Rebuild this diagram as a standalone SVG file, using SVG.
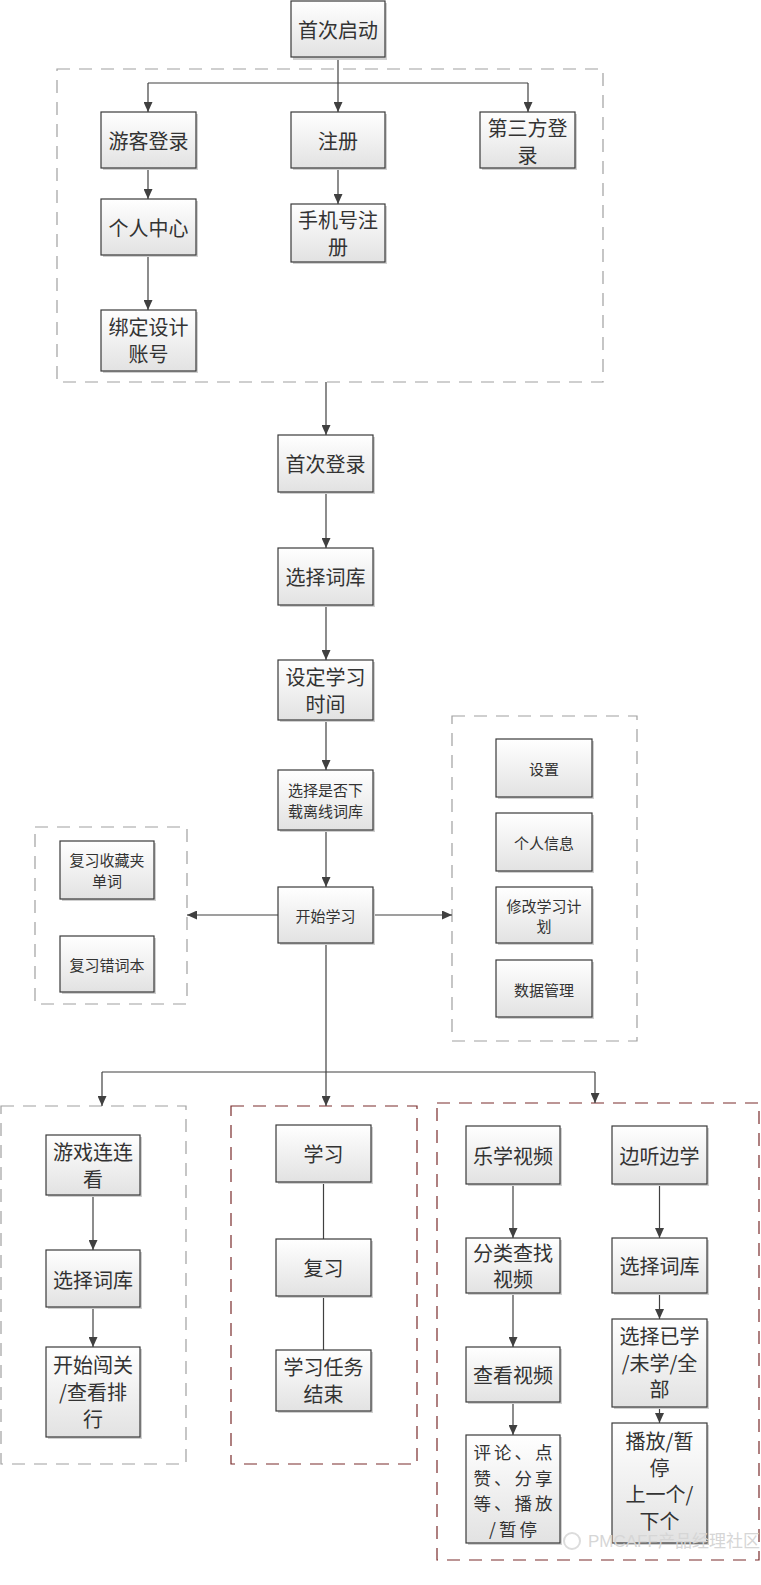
<svg xmlns="http://www.w3.org/2000/svg" width="761" height="1585" viewBox="0 0 761 1585">
<defs>
<linearGradient id="g" x1="0" y1="0" x2="0" y2="1">
<stop offset="0" stop-color="#ffffff"/>
<stop offset="1" stop-color="#e2e2e2"/>
</linearGradient>
<marker id="ah" markerUnits="userSpaceOnUse" markerWidth="10" markerHeight="9" refX="10" refY="4.5" orient="auto">
<path d="M0,0 L10,4.5 L0,9 z" fill="#404040"/>
</marker>
</defs>
<style>
.b{fill:url(#g);stroke:#3a3a3a;stroke-width:1.2}
.s{fill:#d0d0d0}
.t{font-family:"Noto Sans CJK SC","Liberation Sans",sans-serif;font-size:20px;fill:#333;text-anchor:middle;dominant-baseline:central}
.tc{font-family:"Noto Sans CJK SC","Liberation Sans",sans-serif;font-size:17.5px;letter-spacing:3px;fill:#333;text-anchor:middle;dominant-baseline:central}
.ts{font-family:"Noto Sans CJK SC","Liberation Sans",sans-serif;font-size:15px;fill:#333;text-anchor:middle;dominant-baseline:central}
.dg{fill:none;stroke:#a0a0a0;stroke-width:1.2;stroke-dasharray:13 9}
.dr{fill:none;stroke:#7a2c2c;stroke-width:1.2;stroke-dasharray:13 9}
.c{fill:none;stroke:#404040;stroke-width:1.2}
.ca{fill:none;stroke:#404040;stroke-width:1.2;marker-end:url(#ah)}
</style>
<g id="containers">
<rect class="dg" x="57" y="69" width="546" height="313"/>
<rect class="dg" x="35" y="827" width="152" height="177"/>
<rect class="dg" x="452" y="716" width="185" height="325"/>
<rect class="dg" x="1" y="1106" width="185" height="358"/>
<rect class="dr" x="231" y="1106" width="186" height="358"/>
<rect class="dr" x="437" y="1103" width="322" height="457"/>
</g>
<g id="connectors">
<path class="ca" d="M338,57 V112"/>
<path class="c" d="M148,83 H528"/>
<path class="ca" d="M148,83 V112"/>
<path class="ca" d="M528,83 V112"/>
<path class="ca" d="M148,168 V199"/>
<path class="ca" d="M148,255 V310"/>
<path class="ca" d="M338,168 V204"/>
<path class="ca" d="M326,382 V435"/>
<path class="ca" d="M326,492 V548"/>
<path class="ca" d="M326,605 V660"/>
<path class="ca" d="M326,720 V770"/>
<path class="ca" d="M326,830 V887"/>
<path class="ca" d="M278,915 H187"/>
<path class="ca" d="M373,915 H452"/>
<path class="ca" d="M326,943 V1106"/>
<path class="c" d="M102,1072 H595"/>
<path class="ca" d="M102,1072 V1106"/>
<path class="ca" d="M595,1072 V1103"/>
<path class="ca" d="M93,1195 V1250"/>
<path class="ca" d="M93,1307 V1347"/>
<path class="c" d="M323.5,1182 V1239"/>
<path class="c" d="M323.5,1296 V1350"/>
<path class="ca" d="M513,1184 V1238"/>
<path class="ca" d="M513,1293 V1347"/>
<path class="ca" d="M513,1402 V1435"/>
<path class="ca" d="M659.5,1184 V1238"/>
<path class="ca" d="M659.5,1293 V1319"/>
<path class="ca" d="M659.5,1407 V1423"/>
</g>
<g id="n1"><rect class="s" x="293" y="3" width="94" height="57"/><rect class="b" x="291" y="1" width="94" height="56"/><text class="t" x="338" y="29">首次启动</text></g>
<g id="n2"><rect class="s" x="103" y="114" width="95" height="56"/><rect class="b" x="101" y="112" width="95" height="56"/><text class="t" x="148.5" y="140">游客登录</text></g>
<g id="n3"><rect class="s" x="293" y="114" width="94" height="56"/><rect class="b" x="291" y="112" width="94" height="56"/><text class="t" x="338" y="140">注册</text></g>
<g id="n4"><rect class="s" x="482" y="114" width="95" height="56"/><rect class="b" x="480" y="112" width="95" height="56"/><text class="t"><tspan x="527.5" y="127">第三方登</tspan><tspan x="527.5" y="154">录</tspan></text></g>
<g id="n5"><rect class="s" x="103" y="201" width="95" height="56"/><rect class="b" x="101" y="199" width="95" height="56"/><text class="t" x="148.5" y="227">个人中心</text></g>
<g id="n6"><rect class="s" x="293" y="206" width="94" height="58"/><rect class="b" x="291" y="204" width="94" height="58"/><text class="t"><tspan x="338" y="219">手机号注</tspan><tspan x="338" y="246">册</tspan></text></g>
<g id="n7"><rect class="s" x="103" y="312" width="95" height="61"/><rect class="b" x="101" y="310" width="95" height="61"/><text class="t"><tspan x="148.5" y="326">绑定设计</tspan><tspan x="148.5" y="353">账号</tspan></text></g>
<g id="n8"><rect class="s" x="280" y="437" width="95" height="57"/><rect class="b" x="278" y="435" width="95" height="57"/><text class="t" x="325.5" y="463">首次登录</text></g>
<g id="n9"><rect class="s" x="280" y="550" width="95" height="57"/><rect class="b" x="278" y="548" width="95" height="57"/><text class="t" x="325.5" y="576">选择词库</text></g>
<g id="n10"><rect class="s" x="280" y="662" width="95" height="60"/><rect class="b" x="278" y="660" width="95" height="60"/><text class="t"><tspan x="325.5" y="676">设定学习</tspan><tspan x="325.5" y="703">时间</tspan></text></g>
<g id="n11"><rect class="s" x="280" y="772" width="95" height="60"/><rect class="b" x="278" y="770" width="95" height="60"/><text class="ts"><tspan x="325.5" y="789">选择是否下</tspan><tspan x="325.5" y="810">载离线词库</tspan></text></g>
<g id="n12"><rect class="s" x="280" y="889" width="95" height="56"/><rect class="b" x="278" y="887" width="95" height="56"/><text class="ts" x="325.5" y="915">开始学习</text></g>
<g id="n13"><rect class="s" x="62" y="843" width="94" height="58"/><rect class="b" x="60" y="841" width="94" height="58"/><text class="ts"><tspan x="107" y="859">复习收藏夹</tspan><tspan x="107" y="880">单词</tspan></text></g>
<g id="n14"><rect class="s" x="62" y="938" width="94" height="56"/><rect class="b" x="60" y="936" width="94" height="56"/><text class="ts" x="107" y="964">复习错词本</text></g>
<g id="n15"><rect class="s" x="498" y="741" width="96" height="58"/><rect class="b" x="496" y="739" width="96" height="58"/><text class="ts" x="544" y="768">设置</text></g>
<g id="n16"><rect class="s" x="498" y="815" width="96" height="58"/><rect class="b" x="496" y="813" width="96" height="58"/><text class="ts" x="544" y="842">个人信息</text></g>
<g id="n17"><rect class="s" x="498" y="889" width="96" height="56"/><rect class="b" x="496" y="887" width="96" height="56"/><text class="ts"><tspan x="544" y="905">修改学习计</tspan><tspan x="544" y="925">划</tspan></text></g>
<g id="n18"><rect class="s" x="498" y="962" width="96" height="57"/><rect class="b" x="496" y="960" width="96" height="57"/><text class="ts" x="544" y="989">数据管理</text></g>
<g id="n19"><rect class="s" x="48" y="1137" width="94" height="60"/><rect class="b" x="46" y="1135" width="94" height="60"/><text class="t"><tspan x="93" y="1151">游戏连连</tspan><tspan x="93" y="1178">看</tspan></text></g>
<g id="n20"><rect class="s" x="48" y="1252" width="94" height="57"/><rect class="b" x="46" y="1250" width="94" height="57"/><text class="t" x="93" y="1279">选择词库</text></g>
<g id="n21"><rect class="s" x="48" y="1349" width="94" height="90"/><rect class="b" x="46" y="1347" width="94" height="90"/><text class="t"><tspan x="93" y="1364">开始闯关</tspan><tspan x="93" y="1391">/查看排</tspan><tspan x="93" y="1418">行</tspan></text></g>
<g id="n22"><rect class="s" x="278" y="1127" width="95" height="57"/><rect class="b" x="276" y="1125" width="95" height="57"/><text class="t" x="323.5" y="1153">学习</text></g>
<g id="n23"><rect class="s" x="278" y="1241" width="95" height="57"/><rect class="b" x="276" y="1239" width="95" height="57"/><text class="t" x="323.5" y="1267">复习</text></g>
<g id="n24"><rect class="s" x="278" y="1352" width="95" height="61"/><rect class="b" x="276" y="1350" width="95" height="61"/><text class="t"><tspan x="323.5" y="1366">学习任务</tspan><tspan x="323.5" y="1393">结束</tspan></text></g>
<g id="n25"><rect class="s" x="468" y="1128" width="94" height="58"/><rect class="b" x="466" y="1126" width="94" height="58"/><text class="t" x="513" y="1155">乐学视频</text></g>
<g id="n26"><rect class="s" x="468" y="1240" width="94" height="55"/><rect class="b" x="466" y="1238" width="94" height="55"/><text class="t"><tspan x="513" y="1252">分类查找</tspan><tspan x="513" y="1278">视频</tspan></text></g>
<g id="n27"><rect class="s" x="468" y="1349" width="94" height="55"/><rect class="b" x="466" y="1347" width="94" height="55"/><text class="t" x="513" y="1374">查看视频</text></g>
<g id="n28"><rect class="s" x="468" y="1437" width="94" height="108"/><rect class="b" x="466" y="1435" width="94" height="108"/><text class="tc"><tspan x="514.5" y="1451">评论、点</tspan><tspan x="514.5" y="1476.5">赞、分享</tspan><tspan x="514.5" y="1502">等、播放</tspan><tspan x="514.5" y="1527.5">/暂停</tspan></text></g>
<g id="n29"><rect class="s" x="614" y="1128" width="95" height="58"/><rect class="b" x="612" y="1126" width="95" height="58"/><text class="t" x="659.5" y="1155">边听边学</text></g>
<g id="n30"><rect class="s" x="614" y="1240" width="95" height="55"/><rect class="b" x="612" y="1238" width="95" height="55"/><text class="t" x="659.5" y="1265">选择词库</text></g>
<g id="n31"><rect class="s" x="614" y="1321" width="95" height="88"/><rect class="b" x="612" y="1319" width="95" height="88"/><text class="t"><tspan x="659.5" y="1335">选择已学</tspan><tspan x="659.5" y="1362">/未学/全</tspan><tspan x="659.5" y="1388">部</tspan></text></g>
<g id="n32"><rect class="s" x="614" y="1425" width="95" height="120"/><rect class="b" x="612" y="1423" width="95" height="120"/><text class="t"><tspan x="659.5" y="1440">播放/暂</tspan><tspan x="659.5" y="1467">停</tspan><tspan x="659.5" y="1493">上一个/</tspan><tspan x="659.5" y="1520">下个</tspan></text></g>
<g id="watermark"><circle cx="572" cy="1541" r="8" fill="none" stroke="#dcdcdc" stroke-width="2"/><text x="588" y="1541" font-family="'Liberation Sans','Noto Sans CJK SC',sans-serif" font-size="17" fill="#d6d6d6" dominant-baseline="central">PMCAFF产品经理社区</text></g>
</svg>
